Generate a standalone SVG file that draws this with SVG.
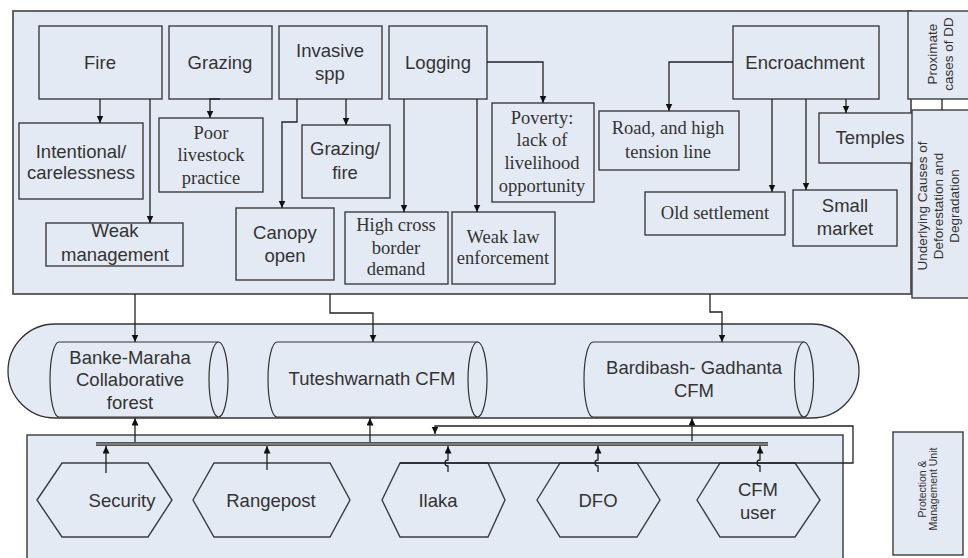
<svg xmlns="http://www.w3.org/2000/svg" width="968" height="558" viewBox="0 0 968 558">
<defs>
<style>
.box{fill:#e4eaf4;stroke:#3c3c3c;stroke-width:1.4}
.cont{fill:#e4eaf4;stroke:#555;stroke-width:1.8}
.cyl{fill:#e4eaf4;stroke:#333;stroke-width:1.2}
.line{fill:none;stroke:#222;stroke-width:1.3}
.s{font-family:"Liberation Sans",Arial,sans-serif;font-size:18.5px;fill:#333;text-anchor:middle}
.t{font-family:"Liberation Serif","Times New Roman",serif;font-size:18.5px;fill:#333;text-anchor:middle}
.r{font-family:"Liberation Sans",Arial,sans-serif;font-size:13.5px;fill:#333;text-anchor:middle}
.p{font-family:"Liberation Sans",Arial,sans-serif;font-size:10.5px;fill:#333;text-anchor:middle}
</style>
<marker id="ah" markerUnits="userSpaceOnUse" markerWidth="8" markerHeight="8" refX="7.5" refY="3.5" orient="auto">
<path d="M0,0 L7.5,3.5 L0,7 z" fill="#111"/>
</marker>
</defs>
<rect width="968" height="558" fill="#fff"/>

<!-- containers -->
<g id="proximate-area">
<rect class="cont" x="13" y="11" width="898" height="283"/>
</g>
<g id="pill">
<path class="cont" d="M55,324 H812 A47,47 0 0 1 812,418 H55 A47,47 0 0 1 55,324 Z" style="stroke:#333;stroke-width:1.3"/>
</g>
<g id="unit-area">
<rect class="cont" x="27" y="435" width="816" height="130" style="stroke:#444;stroke-width:1.5"/>
</g>

<!-- top nodes -->
<g id="fire"><rect class="box" x="39" y="26" width="123" height="73"/><text class="s" x="100" y="68.5">Fire</text></g>
<g id="grazing"><rect class="box" x="169" y="26" width="103" height="73"/><text class="s" x="220" y="68.5">Grazing</text></g>
<g id="invasive"><rect class="box" x="279" y="26" width="103" height="73"/><text class="s" x="330" y="56.5">Invasive</text><text class="s" x="330" y="80">spp</text></g>
<g id="logging"><rect class="box" x="389" y="26" width="98" height="73"/><text class="s" x="438" y="68.5">Logging</text></g>
<g id="encroachment"><rect class="box" x="733" y="26" width="146" height="73"/><text class="s" x="805" y="68.5">Encroachment</text></g>

<g id="intentional"><rect class="box" x="19" y="123" width="124" height="76"/><text class="s" x="81" y="158">Intentional/</text><text class="s" x="81" y="179">carelessness</text></g>
<g id="weak-management"><rect class="box" x="46" y="223" width="137" height="43"/><text class="s" x="115" y="236.5">Weak</text><text class="s" x="115" y="261">management</text></g>
<g id="poor-livestock"><rect class="box" x="159" y="118" width="104" height="74"/><text class="t" x="211" y="138.5">Poor</text><text class="t" x="211" y="161">livestock</text><text class="t" x="211" y="183.5">practice</text></g>
<g id="grazing-fire"><rect class="box" x="302" y="125" width="88" height="73"/><text class="s" x="345" y="154.5">Grazing/</text><text class="s" x="345" y="178.5">fire</text></g>
<g id="canopy"><rect class="box" x="236" y="208" width="98" height="72"/><text class="s" x="285" y="238.5">Canopy</text><text class="s" x="285" y="262">open</text></g>
<g id="high-cross"><rect class="box" x="345" y="212" width="103" height="72"/><text class="t" x="396" y="230.5">High cross</text><text class="t" x="396" y="253.5">border</text><text class="t" x="396" y="275">demand</text></g>
<g id="weak-law"><rect class="box" x="452" y="212" width="103" height="72"/><text class="t" x="503" y="242.5">Weak law</text><text class="t" x="503" y="264">enforcement</text></g>
<g id="poverty"><rect class="box" x="492" y="103" width="102" height="99"/><text class="t" x="542" y="123.5">Poverty:</text><text class="t" x="542" y="146">lack of</text><text class="t" x="542" y="168.5">livelihood</text><text class="t" x="542" y="192">opportunity</text></g>
<g id="road"><rect class="box" x="599" y="111" width="140" height="59"/><text class="t" x="668" y="133.5">Road, and high</text><text class="t" x="668" y="157.5">tension line</text></g>
<g id="old-settlement"><rect class="box" x="645" y="192" width="140" height="43"/><text class="t" x="715" y="219">Old settlement</text></g>
<g id="small-market"><rect class="box" x="793" y="190" width="104" height="56"/><text class="s" x="845" y="211.5">Small</text><text class="s" x="845" y="234.5">market</text></g>
<g id="temples"><rect class="box" x="819" y="113" width="96" height="50"/><text class="s" x="870" y="143.5">Temples</text></g>

<!-- side labels -->
<g id="proximate-label"><rect class="box" x="908" y="11" width="64" height="88"/><text class="r" transform="translate(940,54) rotate(-90)"><tspan x="0" y="-3.5">Proximate</tspan><tspan x="0" y="12.5">cases of DD</tspan></text></g>
<g id="underlying-label"><rect class="box" x="912" y="110" width="60" height="188"/><text class="r" transform="translate(940,206) rotate(-90)"><tspan x="0" y="-13.5">Underlying Causes of</tspan><tspan x="0" y="2.5">Deforestation and</tspan><tspan x="0" y="18.5">Degradation</tspan></text></g>
<g id="protection-label"><rect class="box" x="893" y="432" width="70" height="123"/><text class="p" transform="translate(928,489) rotate(-90)"><tspan x="0" y="-2.5">Protection &amp;</tspan><tspan x="0" y="8.5">Management Unit</tspan></text></g>

<!-- forests -->
<g id="banke"><path class="cyl" d="M59,342 H218 V417 H59 A9,37.5 0 0 1 59,342 Z"/><ellipse class="cyl" cx="218.5" cy="379.5" rx="9.5" ry="37.5"/><text class="s" x="130" y="363.5">Banke-Maraha</text><text class="s" x="130" y="386">Collaborative</text><text class="s" x="130" y="408.5">forest</text></g>
<g id="tuteshwarnath"><path class="cyl" d="M277,342 H477.5 V417 H277 A9,37.5 0 0 1 277,342 Z"/><ellipse class="cyl" cx="477.5" cy="379.5" rx="9.5" ry="37.5"/><text class="s" x="372" y="384.5">Tuteshwarnath CFM</text></g>
<g id="bardibash"><path class="cyl" d="M593,342 H804 V417 H593 A9,37.5 0 0 1 593,342 Z"/><ellipse class="cyl" cx="804" cy="379.5" rx="9.5" ry="37.5"/><text class="s" x="694" y="373.5">Bardibash- Gadhanta</text><text class="s" x="694" y="396.5">CFM</text></g>

<!-- units -->
<g id="security"><polygon class="box" points="37,500 62,463 148,463 172,500 148,537 62,537"/><text class="s" x="122" y="506.5">Security</text></g>
<g id="rangepost"><polygon class="box" points="193,500 214,463 330,463 350,500 330,537 214,537"/><text class="s" x="271" y="506.5">Rangepost</text></g>
<g id="ilaka"><polygon class="box" points="382,500 400,463 488,463 505,500 488,537 400,537"/><text class="s" x="438" y="506.5">Ilaka</text></g>
<g id="dfo"><polygon class="box" points="537,500 560,463 637,463 660,500 637,537 560,537"/><text class="s" x="598" y="506.5">DFO</text></g>
<g id="cfm-user"><polygon class="box" points="697,500 720,463 795,463 820,500 795,537 720,537"/><text class="s" x="758" y="496">CFM</text><text class="s" x="758" y="519">user</text></g>

<!-- connectors -->
<g id="connectors">
<path class="line" marker-end="url(#ah)" d="M100,99 V123"/>
<path class="line" marker-end="url(#ah)" d="M150,99 V223"/>
<path class="line" marker-end="url(#ah)" d="M220,99 H210 V118"/>
<path class="line" marker-end="url(#ah)" d="M346,99 V125"/>
<path class="line" marker-end="url(#ah)" d="M297,99 V122 H282 V208"/>
<path class="line" marker-end="url(#ah)" d="M404,99 V212"/>
<path class="line" marker-end="url(#ah)" d="M477,99 V212"/>
<path class="line" marker-end="url(#ah)" d="M487,62 H543 V103"/>
<path class="line" marker-end="url(#ah)" d="M733,62 H669 V111"/>
<path class="line" marker-end="url(#ah)" d="M772,99 V192"/>
<path class="line" marker-end="url(#ah)" d="M806,99 V190"/>
<path class="line" marker-end="url(#ah)" d="M846,99 V113"/>
<path class="line" d="M942,99 V110"/>
<path class="line" marker-end="url(#ah)" d="M135,294 V342"/>
<path class="line" marker-end="url(#ah)" d="M330,294 V313 H373 V342"/>
<path class="line" marker-end="url(#ah)" d="M710,294 V312 H722 V342"/>
<line x1="96" y1="444" x2="768" y2="444" stroke="#555" stroke-width="4"/>
<line x1="96" y1="444" x2="768" y2="444" stroke="#888" stroke-width="1.5"/>
<path class="line" marker-end="url(#ah)" d="M135,442 V418"/>
<path class="line" marker-end="url(#ah)" d="M370,442 V418"/>
<path class="line" marker-end="url(#ah)" d="M692,441 V418"/>
<path class="line" marker-end="url(#ah)" d="M400,463 H853 V426 H435 V434"/>
<path class="line" marker-end="url(#ah)" d="M106,473 V446"/>
<path class="line" marker-end="url(#ah)" d="M267,470 V446"/>
<path class="line" marker-end="url(#ah)" d="M448,472 V466 A3,3 0 0 1 448,460 V446"/>
<path class="line" marker-end="url(#ah)" d="M598,472 V466 A3,3 0 0 1 598,460 V446"/>
<path class="line" marker-end="url(#ah)" d="M760,472 V466 A3,3 0 0 1 760,460 V446"/>
</g>
</svg>
